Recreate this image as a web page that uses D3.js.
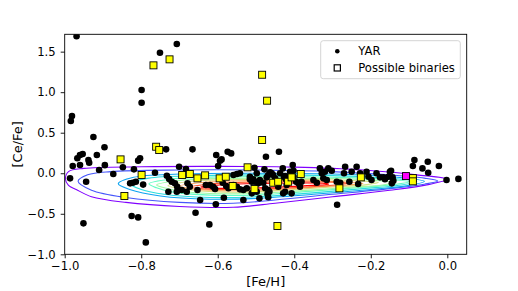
<!DOCTYPE html>
<html>
<head>
<meta charset="utf-8">
<script src="https://cdn.jsdelivr.net/npm/d3@7"></script>
<style>
  body { margin: 0; background: #fff; }
  svg { display: block; font-family: "DejaVu Sans", sans-serif; }
</style>
</head>
<body>
<div id="chart"></div>
<script>
// YAR stars: [Fe/H], [Ce/Fe]
const yarFeH = [
  -0.969, -0.981, -0.984, -0.925, -0.799, -0.799, -0.751, -0.707,
  -0.896, -0.979, -0.967, -0.960, -0.953, -0.960, -0.938, -0.936, -0.916, -0.910, -0.895, -0.848,
  -0.803, -0.808, -0.819, -0.764, -0.735, -0.666, -0.604, -0.574, -0.565, -0.474, -0.440, -0.701,
  -0.683, -0.594, -0.590, -0.599, -0.504, -0.478, -0.463,
  -0.986, -0.944, -0.873, -0.951, -0.822, -0.814, -0.829, -0.795, -0.825, -0.808, -0.788,
  -0.733, -0.727, -0.720, -0.712, -0.706, -0.729, -0.707, -0.681, -0.694, -0.679, -0.673, -0.653,
  -0.646, -0.658, -0.631, -0.620, -0.612, -0.607, -0.605, -0.622, -0.584, -0.587, -0.578, -0.572,
  -0.559, -0.550, -0.542, -0.559, -0.550, -0.542, -0.533, -0.524, -0.533, -0.516, -0.511, -0.503,
  -0.494, -0.491, -0.498, -0.490, -0.481, -0.472, -0.476, -0.468, -0.468, -0.455, -0.442, -0.498,
  -0.468, -0.516, -0.507, -0.511, -0.465, -0.470,
  -0.459, -0.450, -0.446, -0.437, -0.430, -0.427, -0.422, -0.411, -0.404, -0.402, -0.395, -0.389,
  -0.385, -0.381, -0.424, -0.429, -0.407, -0.420, -0.402, -0.424,
  -0.350, -0.341, -0.333, -0.328, -0.320, -0.311, -0.302, -0.324, -0.315, -0.289, -0.280, -0.267,
  -0.270, -0.256, -0.250, -0.237, -0.233, -0.228, -0.211, -0.206, -0.198, -0.185, -0.176, -0.163,
  -0.150, -0.143, -0.145, -0.288, -0.147, -0.167, -0.154, -0.141,
  -0.086, -0.090, -0.065, -0.051, -0.050, -0.022, -0.002, 0.029
];
const yarCeFe = [
  1.690, 0.706, 0.644, 0.447, 1.026, 0.870, 1.487, 1.594,
  0.320, 0.089, 0.184, 0.225, 0.237, 0.101, 0.163, 0.130, 0.225, 0.040, 0.100, 0.073,
  0.184, 0.155, 0.048, 0.006, 0.295, 0.295, 0.225, 0.265, 0.245, 0.204, 0.265, 0.080,
  0.052, 0.154, 0.171, 0.089, 0.068, 0.048, 0.011,
  -0.063, -0.105, -0.010, -0.618, -0.117, -0.105, -0.125, -0.140, -0.528, -0.545, -0.853,
  -0.031, -0.072, -0.105, -0.125, -0.167, -0.228, -0.228, -0.228, -0.207, -0.125, -0.167, -0.207,
  -0.331, -0.487, -0.146, -0.146, -0.167, -0.195, -0.384, -0.631, -0.302, -0.117, -0.158, -0.186,
  -0.022, -0.010, 0.000, -0.146, -0.167, -0.199, -0.207, -0.186, -0.331, -0.043, -0.105, -0.105,
  -0.125, -0.310, -0.001, -0.084, -0.117, -0.051, -0.186, -0.207, -0.022, -0.022, -0.167, -0.228,
  -0.297, -0.075, -0.075, -0.248, -0.228, -0.257,
  -0.001, -0.063, -0.105, 0.000, 0.060, -0.043, -0.075, 0.019, 0.101, -0.043, -0.105, -0.125,
  -0.167, -0.105, -0.228, -0.248, -0.248, -0.146, 0.031, -0.035,
  -0.084, -0.117, 0.060, -0.001, 0.019, 0.060, 0.031, -0.063, -0.084, -0.105, -0.117, 0.080,
  -0.001, -0.105, 0.019, 0.080, -0.133, -0.001, 0.019, -0.043, -0.084, -0.001, -0.051, -0.075,
  0.019, -0.051, -0.125, -0.388, 0.031, -0.051, -0.043, -0.092,
  0.163, 0.089, 0.060, 0.142, 0.006, 0.089, -0.084, -0.070
];

// possible binaries
const binFeH = [
  -0.768, -0.726, -0.484, -0.471, -0.484, -0.854, -0.844, -0.799, -0.761, -0.753,
  -0.693, -0.673, -0.653, -0.633, -0.595, -0.579, -0.561, -0.522, -0.504, -0.444,
  -0.455, -0.442, -0.416, -0.407, -0.383, -0.282, -0.226, -0.090, -0.090
];
const binCeFe = [
  1.331, 1.405, 1.215, 0.895, 0.410, 0.171, -0.281, -0.022, 0.327, 0.286,
  -0.022, -0.010, -0.063, -0.026, -0.063, -0.043, -0.158, 0.073, -0.195, -0.651,
  -0.117, -0.105, -0.105, -0.051, -0.010, -0.186, -0.051, -0.060, -0.100
];

// highlighted binary
const markedFeH = [-0.108];
const markedCeFe = [-0.035];

// density contours, outer to inner, digitized as [Fe/H, Ce/Fe] vertices
const contourLevels = [
  [[-0.998,-0.07],[-0.99,0.02],[-0.95,0.06],[-0.8,0.08],[-0.6,0.085],[-0.4,0.075],[-0.22,0.04],
   [-0.08,-0.02],[0.0,-0.075],[-0.05,-0.14],[-0.15,-0.21],[-0.3,-0.29],[-0.45,-0.37],[-0.56,-0.42],
   [-0.7,-0.41],[-0.84,-0.36],[-0.93,-0.29],[-0.97,-0.2],[-0.99,-0.15]],
  [[-0.965,-0.1],[-0.94,-0.02],[-0.88,0.02],[-0.7,0.04],[-0.5,0.04],[-0.3,0.02],[-0.15,-0.02],
   [-0.06,-0.06],[-0.025,-0.095],[-0.06,-0.135],[-0.15,-0.19],[-0.3,-0.26],[-0.45,-0.33],
   [-0.56,-0.37],[-0.7,-0.36],[-0.84,-0.3],[-0.93,-0.21]],
  [[-0.86,-0.13],[-0.82,-0.05],[-0.7,-0.01],[-0.5,0.0],[-0.3,-0.01],[-0.15,-0.04],[-0.06,-0.1],
   [-0.1,-0.15],[-0.2,-0.2],[-0.35,-0.26],[-0.5,-0.31],[-0.62,-0.32],[-0.75,-0.28],[-0.83,-0.2]],
  [[-0.83,-0.13],[-0.78,-0.06],[-0.65,-0.03],[-0.5,-0.02],[-0.3,-0.03],[-0.16,-0.06],[-0.08,-0.1],
   [-0.12,-0.145],[-0.22,-0.19],[-0.36,-0.245],[-0.5,-0.29],[-0.62,-0.3],[-0.74,-0.26],[-0.8,-0.2]],
  [[-0.78,-0.13],[-0.72,-0.07],[-0.6,-0.045],[-0.45,-0.04],[-0.3,-0.05],[-0.18,-0.07],[-0.1,-0.105],
   [-0.14,-0.14],[-0.24,-0.18],[-0.38,-0.23],[-0.5,-0.27],[-0.62,-0.27],[-0.72,-0.23],[-0.76,-0.18]],
  [[-0.76,-0.145],[-0.7,-0.09],[-0.6,-0.065],[-0.45,-0.06],[-0.3,-0.065],[-0.2,-0.085],[-0.14,-0.115],
   [-0.17,-0.145],[-0.26,-0.175],[-0.38,-0.215],[-0.5,-0.25],[-0.62,-0.25],[-0.7,-0.22],[-0.74,-0.18]],
  [[-0.73,-0.155],[-0.68,-0.105],[-0.58,-0.08],[-0.45,-0.075],[-0.32,-0.08],[-0.23,-0.095],
   [-0.18,-0.115],[-0.21,-0.14],[-0.3,-0.17],[-0.4,-0.2],[-0.5,-0.23],[-0.6,-0.23],[-0.68,-0.2]],
  [[-0.7,-0.16],[-0.64,-0.115],[-0.55,-0.095],[-0.45,-0.09],[-0.34,-0.095],[-0.25,-0.11],
   [-0.22,-0.125],[-0.26,-0.145],[-0.34,-0.17],[-0.44,-0.2],[-0.53,-0.215],[-0.62,-0.21],[-0.67,-0.19]],
  [[-0.67,-0.17],[-0.6,-0.125],[-0.5,-0.11],[-0.4,-0.105],[-0.3,-0.11],[-0.26,-0.125],[-0.29,-0.145],
   [-0.37,-0.17],[-0.46,-0.19],[-0.56,-0.2],[-0.63,-0.195]],
  [[-0.645,-0.17],[-0.58,-0.14],[-0.48,-0.125],[-0.38,-0.12],[-0.32,-0.125],[-0.31,-0.135],
   [-0.35,-0.15],[-0.44,-0.17],[-0.54,-0.185],[-0.61,-0.185]]
];

const xTicks = [-1.0, -0.8, -0.6, -0.4, -0.2, 0.0];
const yTicks = [-1.0, -0.5, 0.0, 0.5, 1.0, 1.5];
const legendLabels = ["YAR", "Possible binaries"];

const W = 518, H = 291;
const m = { left: 64.7, right: 466.7, top: 34.3, bottom: 254.3 };
const fs = 11.6;

const svg = d3.select("#chart").append("svg")
  .attr("width", W).attr("height", H);

const x = d3.scaleLinear().domain([-1.0, 0.0507]).range([m.left, m.right]);
const y = d3.scaleLinear().domain([-1.0, 1.714]).range([m.bottom, m.top]);

svg.append("defs").append("clipPath").attr("id", "clip")
  .append("rect")
  .attr("x", m.left).attr("y", m.top)
  .attr("width", m.right - m.left).attr("height", m.bottom - m.top);

const yar = yarFeH.map((v, i) => [v, yarCeFe[i]]);
const bins = binFeH.map((v, i) => [v, binCeFe[i]]);
const marked = markedFeH.map((v, i) => [v, markedCeFe[i]]);

// matplotlib "rainbow"
function rainbow(t) {
  const r = Math.min(1, Math.abs(2 * t - 0.5));
  const g = Math.sin(Math.PI * t);
  const b = Math.cos(Math.PI * t / 2);
  return d3.rgb(r * 255, g * 255, b * 255).toString();
}

const plot = svg.append("g").attr("clip-path", "url(#clip)");

const ring = d3.line()
  .x(d => x(d[0]))
  .y(d => y(d[1]))
  .curve(d3.curveCatmullRomClosed.alpha(0.5));

plot.append("g").selectAll("path").data(contourLevels).enter()
  .append("path")
    .attr("d", ring)
    .attr("fill", "none")
    .attr("stroke", (d, i) => rainbow(i / (contourLevels.length - 1)))
    .attr("stroke-width", 1.1);

plot.append("g").selectAll("circle").data(yar).enter()
  .append("circle")
    .attr("cx", d => x(d[0]))
    .attr("cy", d => y(d[1]))
    .attr("r", 3.3)
    .attr("fill", "#000");

plot.append("g").selectAll("rect").data(bins).enter()
  .append("rect")
    .attr("x", d => x(d[0]) - 3.5)
    .attr("y", d => y(d[1]) - 3.5)
    .attr("width", 7).attr("height", 7)
    .attr("fill", "#ffff00")
    .attr("stroke", "#000").attr("stroke-width", 0.9);

plot.append("g").selectAll("rect").data(marked).enter()
  .append("rect")
    .attr("x", d => x(d[0]) - 3.5)
    .attr("y", d => y(d[1]) - 3.5)
    .attr("width", 7).attr("height", 7)
    .attr("fill", "#ff00ff")
    .attr("stroke", "#000").attr("stroke-width", 0.9);

// axes
const xAxis = d3.axisBottom(x).tickValues(xTicks).tickSize(4).tickPadding(3)
  .tickFormat(d3.format(".1f"));
const yAxis = d3.axisLeft(y).tickValues(yTicks).tickSize(4).tickPadding(5)
  .tickFormat(d3.format(".1f"));

const gx = svg.append("g").attr("transform", `translate(0,${m.bottom})`).call(xAxis);
const gy = svg.append("g").attr("transform", `translate(${m.left},0)`).call(yAxis);
for (const g of [gx, gy]) {
  g.select(".domain").remove();
  g.selectAll("line").attr("stroke", "#000").attr("stroke-width", 0.9);
  g.selectAll("text").attr("fill", "#000").style("font-size", fs + "px")
    .style("font-family", "DejaVu Sans");
}

svg.append("rect")
  .attr("x", m.left).attr("y", m.top)
  .attr("width", m.right - m.left).attr("height", m.bottom - m.top)
  .attr("fill", "none").attr("stroke", "#000").attr("stroke-width", 0.9);

svg.append("text")
  .attr("x", (m.left + m.right) / 2).attr("y", 286)
  .attr("text-anchor", "middle").style("font-size", "13px")
  .text("[Fe/H]");

svg.append("text")
  .attr("transform", `translate(22,${(m.top + m.bottom) / 2}) rotate(-90)`)
  .attr("text-anchor", "middle").style("font-size", "13px")
  .text("[Ce/Fe]");

// legend
const lg = svg.append("g");
lg.append("rect")
  .attr("x", 320.7).attr("y", 40.7).attr("width", 139.6).attr("height", 38)
  .attr("rx", 2.5)
  .attr("fill", "#fff").attr("fill-opacity", 0.8)
  .attr("stroke", "#d0d0d0").attr("stroke-width", 0.9);
lg.append("circle").attr("cx", 337.3).attr("cy", 51.2).attr("r", 2.3).attr("fill", "#000");
lg.append("rect").attr("x", 334.2).attr("y", 64.8).attr("width", 6.2).attr("height", 6.2)
  .attr("fill", "#fff").attr("stroke", "#000").attr("stroke-width", 1.2);
lg.selectAll("text").data(legendLabels).enter()
  .append("text")
    .attr("x", 358.3)
    .attr("y", (d, i) => 55.2 + i * 16.8)
    .style("font-size", fs + "px")
    .text(d => d);
</script>
</body>
</html>
